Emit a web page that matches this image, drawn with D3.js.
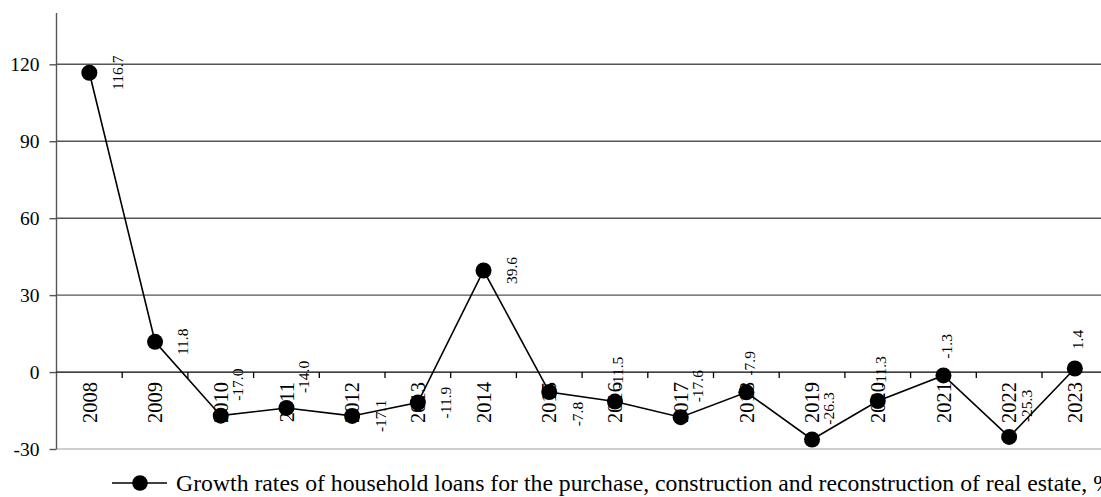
<!DOCTYPE html>
<html>
<head>
<meta charset="utf-8">
<script src="https://cdn.jsdelivr.net/npm/d3@7"></script>
<style>
  body { margin: 0; background: #fff; }
  svg, svg text { font-family: "Liberation Serif", "DejaVu Serif", serif !important; fill: #000; }
</style>
</head>
<body>
<div id="chart"></div>
<script>
const years = ["2008", "2009", "2010", "2011", "2012", "2013", "2014", "2015",
               "2016", "2017", "2018", "2019", "2020", "2021", "2022", "2023"];
const growth = [116.7, 11.8, -17.0, -14.0, -17.1, -11.9, 39.6, -7.8,
                -11.5, -17.6, -7.9, -26.3, -11.3, -1.3, -25.3, 1.4];
const yTicks = [-30, 0, 30, 60, 90, 120];
const seriesName = "Growth rates of household loans for the purchase, construction and reconstruction of real estate, %";

// where each data label sits relative to its marker (as in the original)
const labelSide = ["right", "right", "upright", "upright", "right", "right", "right", "downright",
                   "above", "upright", "above", "upright", "above", "above", "upright", "above"];
const sideOffset = {
    right: [28, 0],
    above: [3, -29],
    upright: [17, -31],
    downright: [28, 22]
};

const width = 1101, height = 497;
const margin = { top: 13, left: 56.5, bottom: 48 };
const step = 65.7;
const fontFam = "'Liberation Serif', 'DejaVu Serif', serif";
const fmt = v => d3.format(".1f")(v).replace("\u2212", "-");

const svg = d3.select("#chart")
    .append("svg")
    .attr("width", width)
    .attr("height", height)
    .attr("font-family", fontFam);

const x = d3.scaleBand()
    .domain(years)
    .range([margin.left, margin.left + step * years.length])
    .padding(0);

const y = d3.scaleLinear()
    .domain([-30, 140])
    .range([height - margin.bottom, margin.top]);

// gridlines (30..120)
svg.append("g")
    .selectAll("line")
    .data(yTicks.filter(d => d > 0))
    .enter().append("line")
    .attr("x1", margin.left)
    .attr("x2", width)
    .attr("y1", d => y(d))
    .attr("y2", d => y(d))
    .attr("stroke", "#555")
    .attr("stroke-width", 1.4);

// light bottom line at -30
svg.append("line")
    .attr("x1", margin.left)
    .attr("x2", width)
    .attr("y1", y(-30))
    .attr("y2", y(-30))
    .attr("stroke", "#cfcfcf")
    .attr("stroke-width", 2);

// y axis
const yAxis = svg.append("g")
    .attr("transform", `translate(${margin.left},0)`)
    .call(d3.axisLeft(y).tickValues(yTicks).tickSize(7).tickPadding(10).tickFormat(fmt0));
yAxis.attr("font-family", fontFam);
yAxis.select(".domain")
    .attr("d", `M0,${y(-30)}V${y(140)}`)
    .attr("stroke", "#555")
    .attr("stroke-width", 1.4);
yAxis.selectAll(".tick line").attr("stroke", "#555").attr("stroke-width", 1.4);
yAxis.selectAll(".tick text")
    .attr("font-size", 19.5)
    .style("font-size", "19.5px")
    .style("font-family", fontFam)
    .attr("fill", "#000");

function fmt0(v) { return String(v); }

// zero axis with category ticks
svg.append("line")
    .attr("x1", margin.left)
    .attr("x2", width)
    .attr("y1", y(0))
    .attr("y2", y(0))
    .attr("stroke", "#000")
    .attr("stroke-width", 1.3);

svg.append("g")
    .selectAll("line")
    .data(years)
    .enter().append("line")
    .attr("x1", d => x(d) + x.bandwidth())
    .attr("x2", d => x(d) + x.bandwidth())
    .attr("y1", y(0))
    .attr("y2", y(0) + 6)
    .attr("stroke", "#000")
    .attr("stroke-width", 1.3);

svg.append("g")
    .selectAll("text")
    .data(years)
    .enter().append("text")
    .attr("transform", d => `translate(${x(d) + x.bandwidth() / 2},${y(0) + 10}) rotate(-90)`)
    .attr("dy", "0.35em")
    .style("text-anchor", "end")
    .style("font-family", fontFam)
    .style("font-size", "20.5px")
    .text(d => d);

// series line
const cx = (d, i) => x(years[i]) + x.bandwidth() / 2;

svg.append("path")
    .datum(growth)
    .attr("fill", "none")
    .attr("stroke", "#000")
    .attr("stroke-width", 1.6)
    .attr("d", d3.line().x(cx).y(d => y(d)));

svg.append("g")
    .selectAll("circle")
    .data(growth)
    .enter().append("circle")
    .attr("cx", cx)
    .attr("cy", d => y(d))
    .attr("r", 8)
    .attr("fill", "#000");

// data labels
svg.append("g")
    .selectAll("text")
    .data(growth)
    .enter().append("text")
    .attr("transform", (d, i) => {
        const o = sideOffset[labelSide[i]];
        return `translate(${cx(d, i) + o[0]},${y(d) + o[1]}) rotate(-90)`;
    })
    .attr("dy", "0.35em")
    .style("text-anchor", "middle")
    .style("font-family", fontFam)
    .style("font-size", "15.5px")
    .text(d => fmt(d));

// legend
const legend = svg.append("g").attr("transform", "translate(112,483)");
legend.append("line")
    .attr("x1", 0).attr("x2", 55)
    .attr("y1", 0).attr("y2", 0)
    .attr("stroke", "#000")
    .attr("stroke-width", 1.6);
legend.append("circle")
    .attr("cx", 28).attr("cy", 0).attr("r", 7.8)
    .attr("fill", "#000");
legend.append("text")
    .attr("x", 64)
    .attr("y", 8)
    .attr("textLength", 937)
    .attr("lengthAdjust", "spacingAndGlyphs")
    .style("font-family", fontFam)
    .style("font-size", "23px")
    .text(seriesName);
</script>
</body>
</html>
